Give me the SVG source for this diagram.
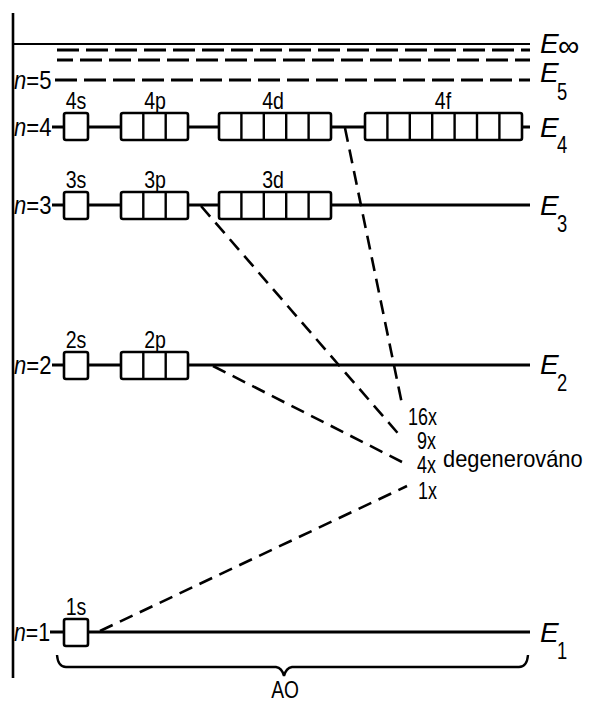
<svg xmlns="http://www.w3.org/2000/svg" width="591" height="705" viewBox="0 0 591 705">
  <style>
    .lvl { stroke: #000; stroke-width: 3; fill: none; }
    .box { stroke: #000; stroke-width: 2.6; fill: #fff; }
    .cell { stroke: #000; stroke-width: 2.4; fill: none; }
    .dash { stroke: #000; stroke-width: 3; fill: none; stroke-dasharray: 22 7; }
    .conn { stroke: #000; stroke-width: 2.6; fill: none; stroke-dasharray: 14 8; }
    text { font-family: "Liberation Sans", "DejaVu Sans", sans-serif; fill: #000; }
    .orb { font-size: 23px; text-anchor: middle; }
    .nlab { font-size: 26px; }
    .elab { font-size: 28px; font-style: italic; }
    .esub { font-size: 23px; }
    .deg { font-size: 23px; }
  </style>

  <!-- energy axis -->
  <line x1="13" y1="13" x2="13" y2="678" stroke="#000" stroke-width="2.6"/>

  <!-- continuum and upper levels -->
  <g id="level-inf">
    <line x1="13" y1="44" x2="530" y2="44" stroke="#000" stroke-width="2.2"/>
    <line class="dash" x1="57" y1="50" x2="530" y2="50"/>
    <line class="dash" x1="57" y1="60" x2="530" y2="60" stroke-dashoffset="6"/>
    <text class="elab" x="540" y="53">E</text>
    <text x="558" y="56" font-size="30" font-family="DejaVu Sans, sans-serif">∞</text>
  </g>

  <g id="level-5">
    <line class="dash" x1="55" y1="80" x2="530" y2="80" stroke-dasharray="20 8"/>
    <text class="nlab" transform="translate(14 89) scale(0.85 1)"><tspan font-style="italic">n</tspan>=5</text>
    <text class="elab" x="540" y="82">E</text>
    <text class="esub" transform="translate(557 100) scale(0.8 1)">5</text>
  </g>

  <!-- n = 4 -->
  <g id="level-4">
    <line class="lvl" x1="52" y1="127" x2="530" y2="127"/>
    <text class="nlab" transform="translate(14 136) scale(0.85 1)"><tspan font-style="italic">n</tspan>=4</text>
    <rect class="box" x="64" y="113" width="24" height="27" rx="2"/>
    <rect class="box" x="121" y="113" width="67" height="27" rx="2"/>
    <line class="cell" x1="143.3" y1="113" x2="143.3" y2="140"/>
    <line class="cell" x1="165.7" y1="113" x2="165.7" y2="140"/>
    <rect class="box" x="219" y="113" width="112" height="27" rx="2"/>
    <line class="cell" x1="241.4" y1="113" x2="241.4" y2="140"/>
    <line class="cell" x1="263.8" y1="113" x2="263.8" y2="140"/>
    <line class="cell" x1="286.2" y1="113" x2="286.2" y2="140"/>
    <line class="cell" x1="308.6" y1="113" x2="308.6" y2="140"/>
    <rect class="box" x="365" y="113" width="157" height="27" rx="2"/>
    <line class="cell" x1="387.4" y1="113" x2="387.4" y2="140"/>
    <line class="cell" x1="409.8" y1="113" x2="409.8" y2="140"/>
    <line class="cell" x1="432.2" y1="113" x2="432.2" y2="140"/>
    <line class="cell" x1="454.6" y1="113" x2="454.6" y2="140"/>
    <line class="cell" x1="477" y1="113" x2="477" y2="140"/>
    <line class="cell" x1="499.4" y1="113" x2="499.4" y2="140"/>
    <text class="orb" transform="translate(76 109) scale(0.85 1)">4s</text>
    <text class="orb" transform="translate(155 109) scale(0.85 1)">4p</text>
    <text class="orb" transform="translate(273 109) scale(0.85 1)">4d</text>
    <text class="orb" transform="translate(443 109) scale(0.85 1)">4f</text>
    <text class="elab" x="540" y="137">E</text>
    <text class="esub" transform="translate(557 153) scale(0.8 1)">4</text>
  </g>

  <!-- n = 3 -->
  <g id="level-3">
    <line class="lvl" x1="52" y1="205" x2="530" y2="205"/>
    <text class="nlab" transform="translate(14 214) scale(0.85 1)"><tspan font-style="italic">n</tspan>=3</text>
    <rect class="box" x="64" y="192" width="24" height="27" rx="2"/>
    <rect class="box" x="121" y="192" width="67" height="27" rx="2"/>
    <line class="cell" x1="143.3" y1="192" x2="143.3" y2="219"/>
    <line class="cell" x1="165.7" y1="192" x2="165.7" y2="219"/>
    <rect class="box" x="219" y="192" width="112" height="27" rx="2"/>
    <line class="cell" x1="241.4" y1="192" x2="241.4" y2="219"/>
    <line class="cell" x1="263.8" y1="192" x2="263.8" y2="219"/>
    <line class="cell" x1="286.2" y1="192" x2="286.2" y2="219"/>
    <line class="cell" x1="308.6" y1="192" x2="308.6" y2="219"/>
    <text class="orb" transform="translate(76 188) scale(0.85 1)">3s</text>
    <text class="orb" transform="translate(155 188) scale(0.85 1)">3p</text>
    <text class="orb" transform="translate(273 188) scale(0.85 1)">3d</text>
    <text class="elab" x="540" y="215">E</text>
    <text class="esub" transform="translate(557 232) scale(0.8 1)">3</text>
  </g>

  <!-- n = 2 -->
  <g id="level-2">
    <line class="lvl" x1="52" y1="365" x2="530" y2="365"/>
    <text class="nlab" transform="translate(14 374) scale(0.85 1)"><tspan font-style="italic">n</tspan>=2</text>
    <rect class="box" x="64" y="352" width="24" height="27" rx="2"/>
    <rect class="box" x="121" y="352" width="67" height="27" rx="2"/>
    <line class="cell" x1="143.3" y1="352" x2="143.3" y2="379"/>
    <line class="cell" x1="165.7" y1="352" x2="165.7" y2="379"/>
    <text class="orb" transform="translate(76 348) scale(0.85 1)">2s</text>
    <text class="orb" transform="translate(155 348) scale(0.85 1)">2p</text>
    <text class="elab" x="540" y="374">E</text>
    <text class="esub" transform="translate(557 391) scale(0.8 1)">2</text>
  </g>

  <!-- n = 1 -->
  <g id="level-1">
    <line class="lvl" x1="50" y1="632" x2="530" y2="632" stroke-width="3.4"/>
    <text class="nlab" transform="translate(14 641) scale(0.82 1)"><tspan font-style="italic">n</tspan>=1</text>
    <rect class="box" x="64" y="619" width="24" height="27" rx="2"/>
    <text class="orb" transform="translate(76 615) scale(0.85 1)">1s</text>
    <text class="elab" x="540" y="642">E</text>
    <text class="esub" transform="translate(557 659) scale(0.8 1)">1</text>
  </g>

  <!-- degeneracy connectors -->
  <g id="connectors">
    <line class="conn" x1="345" y1="128" x2="402" y2="404"/>
    <line class="conn" x1="201" y1="206" x2="402" y2="438"/>
    <line class="conn" x1="213" y1="366" x2="402" y2="462"/>
    <line class="conn" x1="100" y1="631" x2="407" y2="486"/>
  </g>

  <g id="degeneracy">
    <text class="deg" transform="translate(408 425) scale(0.78 1)">16x</text>
    <text class="deg" transform="translate(417 449) scale(0.78 1)">9x</text>
    <text class="deg" transform="translate(417 473) scale(0.78 1)">4x</text>
    <text class="deg" transform="translate(418 499) scale(0.78 1)">1x</text>
    <text class="deg" font-size="25" transform="translate(443 467) scale(0.95 1)">degenerováno</text>
  </g>

  <!-- brace grouping the atomic orbitals -->
  <g id="brace">
    <path d="M57,655 Q58,667 66,667 L276,667 Q282,668 284,676 Q286,668 292,667 L519,667 Q527,667 528,655" stroke="#000" stroke-width="2.4" fill="none"/>
    <text font-size="24" text-anchor="middle" transform="translate(285 698) scale(0.8 1)">AO</text>
  </g>
</svg>
